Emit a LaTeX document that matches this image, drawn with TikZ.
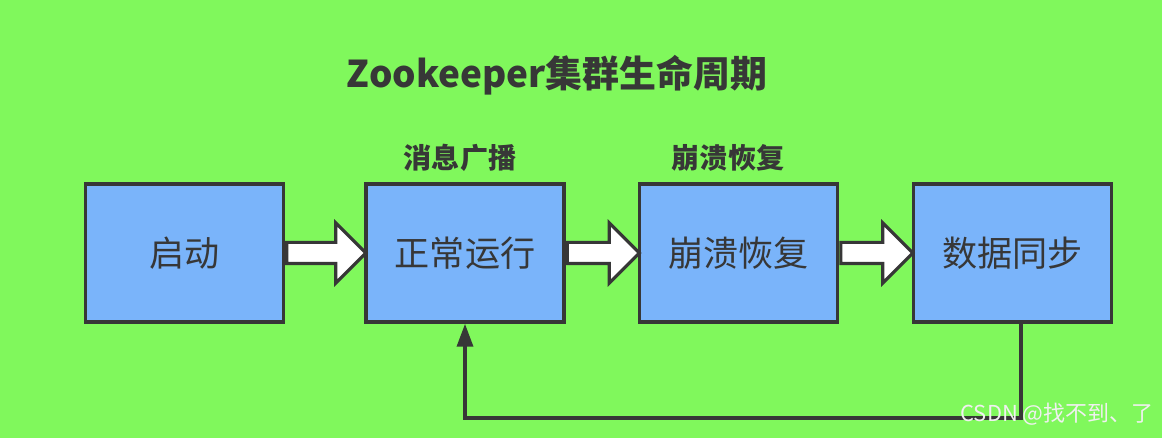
\documentclass[tikz,border=0pt]{standalone}
\usepackage{fontspec}
\setmainfont{Noto Sans CJK SC}
\usetikzlibrary{shapes.arrows,arrows.meta,positioning}
\definecolor{bggreen}{RGB}{128,248,92}
\definecolor{boxblue}{RGB}{122,180,250}
\definecolor{inkgray}{RGB}{55,55,55}

\begin{document}
\begin{tikzpicture}[x=0.02cm,y=-0.02cm]
\tikzstyle{stage}=[draw=inkgray,line width=2pt,fill=boxblue,minimum width=3.96cm,minimum height=2.76cm,inner sep=0pt,text=inkgray,font=\fontsize{20}{24}\selectfont]
\tikzstyle{fatarrow}=[single arrow,draw=inkgray,line width=1.8pt,fill=white,inner sep=0.18cm,single arrow head extend=0.39cm,anchor=tail]
\tikzstyle{phase}=[text=inkgray,font=\fontsize{16}{20}\selectfont\bfseries]
\fill[bggreen] (0,0) rectangle (1162,438);
\useasboundingbox (0,0) rectangle (1162,438);
% title
\node[text=inkgray,font=\fontsize{21}{25}\selectfont\bfseries] (title) at (557,75) {Zookeeper集群生命周期};
% stages
\node[stage] (boot) at (184.5,253) {启动};
\node[stage] (run) at (465,253) {正常运行};
\node[stage] (crash) at (738.5,253) {崩溃恢复};
\node[stage] (sync) at (1012.5,253) {数据同步};
% phase labels
\node[phase] (bcast) at (460,158) {消息广播};
\node[phase] (recov) at (728,158) {崩溃恢复};
% fat arrows between stages
\node[fatarrow,minimum height=1.58cm] (a1) at (boot.east) {};
\node[fatarrow,minimum height=1.44cm] (a2) at (run.east) {};
\node[fatarrow,minimum height=1.44cm] (a3) at (crash.east) {};
% back to normal running
\coordinate (corner) at (465,418);
\draw[inkgray,line width=2pt,-{Triangle[length=0.46cm,width=0.32cm]}] ([xshift=0.17cm]sync.south) |- (corner) -- (run.south);
% watermark
\node[text=white!88!gray,font=\fontsize{12.5}{15}\selectfont] (mark) at (1057,414) {CSDN @找不到、了};
\end{tikzpicture}
\end{document}
